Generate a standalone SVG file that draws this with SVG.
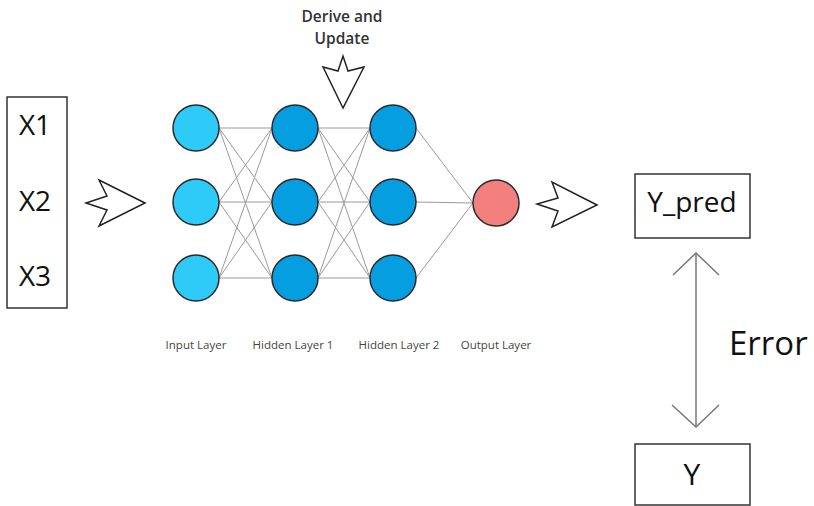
<svg xmlns="http://www.w3.org/2000/svg" width="814" height="506" viewBox="0 0 814 506">
<style>
.box{fill:#fff;stroke:#333;stroke-width:1.5}
.big{font-family:"Open Sans","Noto Sans",sans-serif;fill:#111;text-anchor:middle}
.in{fill:#2ECBF8;stroke:#2a2a2a;stroke-width:1.5}
.hid{fill:#059EE0;stroke:#2a2a2a;stroke-width:1.5}
.out{fill:#F47F7F;stroke:#2a2a2a;stroke-width:1.5}
.edge{stroke:#9a9a9a;stroke-width:1;fill:none}
.fat{fill:#fff;stroke:#222;stroke-width:1.5;stroke-linejoin:miter}
.lbl{font-family:"Open Sans","Noto Sans",sans-serif;font-size:11.5px;fill:#444;text-anchor:middle}
.dbl{stroke:#777;stroke-width:1.5;fill:none}
.drv{font-family:"Open Sans","Noto Sans",sans-serif;font-size:15.5px;font-weight:600;fill:#333;text-anchor:middle}
</style>
<g id="inputs">
<rect class="box" x="7" y="97" width="60" height="211"/>
<text class="big" x="35" y="135" font-size="28">X1</text>
<text class="big" x="35" y="211" font-size="28">X2</text>
<text class="big" x="35" y="286" font-size="28">X3</text>
</g>
<g id="connectors">
<g class="edge">
<line x1="219" y1="128" x2="272" y2="128"/><line x1="219" y1="128" x2="272" y2="202"/><line x1="219" y1="128" x2="272" y2="278"/>
<line x1="219" y1="202" x2="272" y2="128"/><line x1="219" y1="202" x2="272" y2="202"/><line x1="219" y1="202" x2="272" y2="278"/>
<line x1="219" y1="278" x2="272" y2="128"/><line x1="219" y1="278" x2="272" y2="202"/><line x1="219" y1="278" x2="272" y2="278"/>
<line x1="318" y1="128" x2="370" y2="128"/><line x1="318" y1="128" x2="370" y2="202"/><line x1="318" y1="128" x2="370" y2="278"/>
<line x1="318" y1="202" x2="370" y2="128"/><line x1="318" y1="202" x2="370" y2="202"/><line x1="318" y1="202" x2="370" y2="278"/>
<line x1="318" y1="278" x2="370" y2="128"/><line x1="318" y1="278" x2="370" y2="202"/><line x1="318" y1="278" x2="370" y2="278"/>
<line x1="416" y1="128" x2="473" y2="203"/><line x1="416" y1="202" x2="473" y2="203"/><line x1="416" y1="278" x2="473" y2="203"/>
</g>
<path class="fat" d="M145,203 L99,180 L107,196 L86,203 L107,210 L99,226 Z"/>
<path class="fat" d="M597,205 L552,182 L558,198 L537,204 L558,211 L552,227 Z"/>
<path class="fat" d="M343,108 L323,67 L338,71 L343,56 L348,71 L364,67 Z"/>
<line class="dbl" x1="696" y1="253" x2="696" y2="427"/>
<polyline class="dbl" points="673,275 696,253 719,275"/>
<polyline class="dbl" points="672,405 696,427 719,405"/>
</g>
<g id="derive-label">
<text class="drv" x="342" y="22">Derive and</text>
<text class="drv" x="342" y="43.5">Update</text>
</g>
<g id="input-layer">
<circle class="in" cx="196" cy="128" r="23"/>
<circle class="in" cx="196" cy="202" r="23"/>
<circle class="in" cx="196" cy="278" r="23"/>
<text class="lbl" x="196" y="349">Input Layer</text>
</g>
<g id="hidden-layer-1">
<circle class="hid" cx="295" cy="128" r="23"/>
<circle class="hid" cx="295" cy="202" r="23"/>
<circle class="hid" cx="295" cy="278" r="23"/>
<text class="lbl" x="293" y="349">Hidden Layer 1</text>
</g>
<g id="hidden-layer-2">
<circle class="hid" cx="393" cy="128" r="23"/>
<circle class="hid" cx="393" cy="202" r="23"/>
<circle class="hid" cx="393" cy="278" r="23"/>
<text class="lbl" x="399" y="349">Hidden Layer 2</text>
</g>
<g id="output-layer">
<circle class="out" cx="496" cy="203" r="23"/>
<text class="lbl" x="496" y="349">Output Layer</text>
</g>
<g id="y-pred">
<rect class="box" x="635" y="174" width="115" height="64"/>
<text class="big" x="692" y="212" font-size="28">Y_pred</text>
</g>
<g id="error-label">
<text x="729" y="355" font-family="Open Sans, Noto Sans, sans-serif" font-size="33" fill="#111">Error</text>
</g>
<g id="y">
<rect class="box" x="635" y="444" width="115" height="61"/>
<text class="big" x="692" y="485" font-size="30">Y</text>
</g>
</svg>
